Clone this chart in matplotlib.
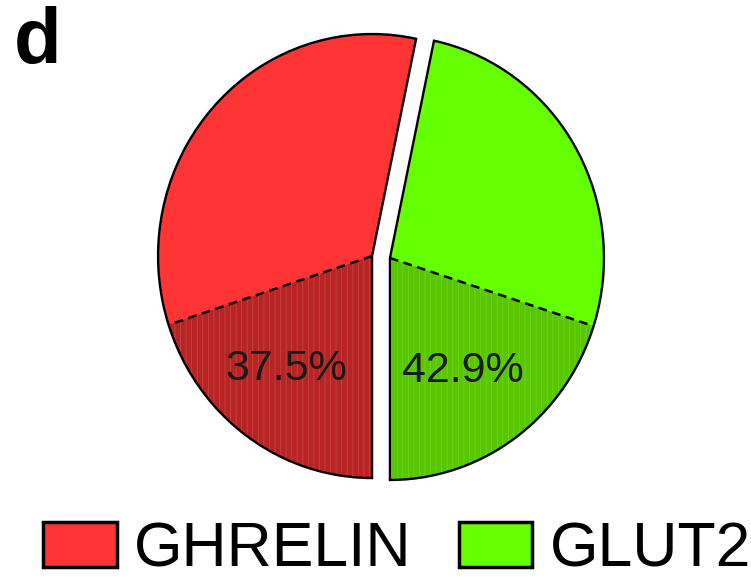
import numpy as np
import matplotlib.pyplot as plt
from matplotlib.patches import Wedge, Patch

plt.rcParams['font.family'] = ['Liberation Sans', 'DejaVu Sans']
plt.rcParams['hatch.linewidth'] = 0.5

groups = ['GHRELIN', 'GLUT2']
group_share = [53.3, 46.7]          # share of the whole pie
co_pct = [37.5, 42.9]               # dark sub-sector, % of each group
colors = ['#ff3434', '#66ff00']
dark_colors = ['#b82424', '#58c600']
hatch_colors = ['#c84848', '#70d820']

fig = plt.figure(figsize=(7.51, 5.78), dpi=100)
ax = fig.add_axes([145.6 / 751, 76.8 / 578, 470.8 / 751, 488.4 / 578])

spans = [360 * s / sum(group_share) for s in group_share]
start = 270 - spans[0]
wedges, _ = ax.pie(group_share, colors=colors, startangle=start,
                   explode=[0.042, 0.042], radius=1,
                   wedgeprops=dict(edgecolor='none'))
ax.set_aspect('auto')
ax.set_xlim(-1.1, 1.1)
ax.set_ylim(-1.1, 1.1)
ax.axis('off')

for i, w in enumerate(wedges):
    cx, cy = w.center
    part = spans[i] * co_pct[i] / 100
    if i == 0:
        t1, t2, edge = 270 - part, 270, 270 - part
    else:
        t1, t2, edge = 270, 270 + part, 270 + part
    ax.add_patch(Wedge((cx, cy), 1, t1, t2, facecolor=dark_colors[i],
                       edgecolor='none', zorder=2))
    ax.add_patch(Wedge((cx, cy), 1, t1, t2, facecolor='none',
                       edgecolor=hatch_colors[i], linewidth=0,
                       hatch='|||', zorder=2.1))
    a = np.deg2rad(edge)
    ax.plot([cx, cx + np.cos(a)], [cy, cy + np.sin(a)], color='black',
            lw=1.8, ls=(0, (3.5, 2.2)), zorder=3)
    # outline of the group wedge
    ax.add_patch(Wedge((cx, cy), 1, w.theta1, w.theta2, fill=False,
                       edgecolor='black', linewidth=1.7, zorder=4))
    mid = np.deg2rad((t1 + t2) / 2)
    ax.text(cx + 0.63 * np.cos(mid) - 0.03, cy + 0.63 * np.sin(mid),
            f'{co_pct[i]}%', ha='center', va='center', fontsize=31,
            color='#1a1a1a', zorder=5)

handles = [Patch(facecolor=c, edgecolor='black', linewidth=2.5) for c in colors]
fig.legend(handles, groups, loc='center', bbox_to_anchor=(397 / 751, 28 / 578),
           ncol=2, frameon=False, fontsize=45, handlelength=1.18,
           handleheight=0.72, handletextpad=0.28, columnspacing=0.75,
           borderpad=0, borderaxespad=0)

fig.text(14 / 751, 1 - 6 / 578, 'd', fontsize=56, fontweight='bold',
         ha='left', va='top')

fig.savefig('out.png', dpi=100)
